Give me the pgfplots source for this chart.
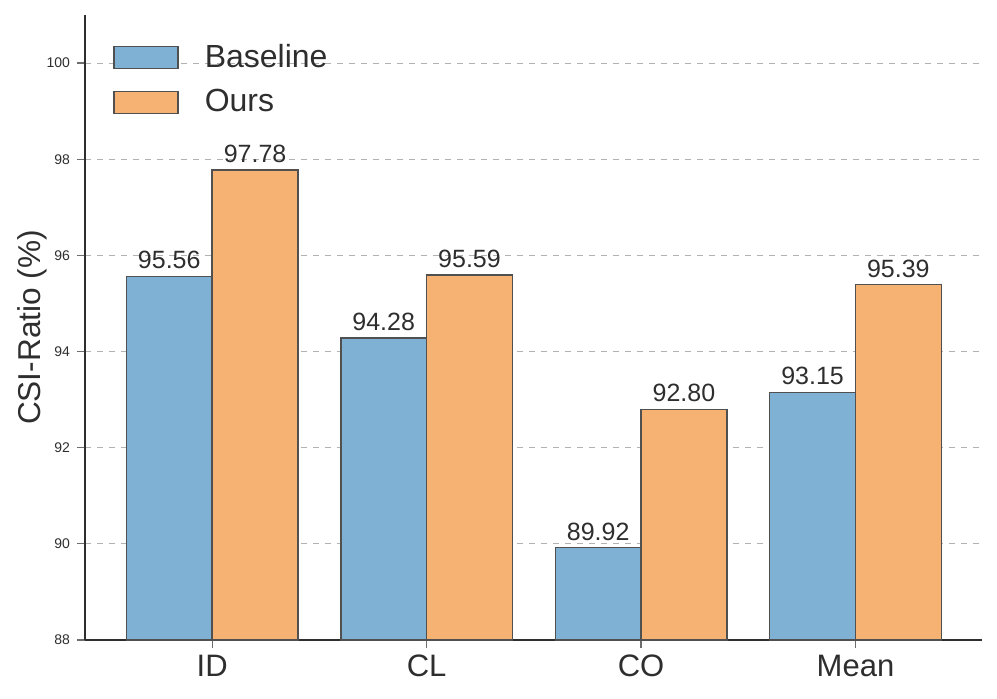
\documentclass[border=0pt]{standalone}
\usepackage{pgfplots}
\pgfplotsset{compat=1.18}
\usepackage{fontspec}
\setmainfont{Liberation Sans}
\definecolor{cblue}{HTML}{7FB1D4}
\definecolor{corange}{HTML}{F6B273}
\definecolor{cedge}{HTML}{505050}
\definecolor{ctext}{HTML}{2E2E2E}
\begin{document}
\begin{tikzpicture}
\begin{axis}[
  scale only axis,
  width=448.5pt, height=312.5pt,
  xmin=-0.593, xmax=3.59,
  ymin=88, ymax=101,
  axis x line*=bottom, axis y line*=left,
  axis line style={ctext, line width=0.8pt, -},
  xtick={0,1,2,3},
  xticklabels={ID,CL,CO,Mean},
  ytick={88,90,...,100},
  x tick label style={font=\fontsize{15.5}{18}\selectfont, text=ctext},
  y tick label style={font=\fontsize{7}{8}\selectfont, text=ctext},
  /pgf/number format/assume math mode=true,
  tick style={color=ctext!70, line width=0.6pt},
  tick align=outside,
  major tick length=4pt,
  ymajorgrids,
  grid style={dashed, color=black!30, line width=0.4pt},
  ylabel={CSI-Ratio (\%)},
  ylabel style={font=\fontsize{15.8}{18}\selectfont, text=ctext,
    at={(axis description cs:-0.059,0.5)}, anchor=center},
  ybar,
  bar width=0.4,
  nodes near coords,
  nodes near coords style={font=\fontsize{12.5}{14}\selectfont, text=ctext,
    /pgf/number format/.cd, fixed, fixed zerofill, precision=2},
  legend style={draw=none, fill=none, at={(0,1)}, anchor=north west,
    xshift=11pt, yshift=-10.5pt,
    font=\fontsize{16}{18}\selectfont, text=ctext,
    row sep=5.5pt},
  legend cell align=left,
  legend image code/.code={\draw[#1, bar shift=0pt] (0pt,-5.5pt) rectangle (32pt,5.5pt);
    \path (43pt,0pt);},
  clip=false,
]
\addplot+[bar shift=-0.2, fill=cblue, draw=cedge, line width=0.7pt] coordinates {
  (0,95.56) (1,94.28) (2,89.92) (3,93.15)
};
\addplot+[bar shift=0.2, fill=corange, draw=cedge, line width=0.7pt] coordinates {
  (0,97.78) (1,95.59) (2,92.80) (3,95.39)
};
\legend{Baseline, Ours}
\path (rel axis cs:0,0) ++(-42.5pt,-29pt) coordinate (bbA);
\path (rel axis cs:1,1) ++(7.5pt,7.5pt) coordinate (bbB);
\path[use as bounding box] (bbA) rectangle (bbB);
\end{axis}
\end{tikzpicture}
\end{document}
